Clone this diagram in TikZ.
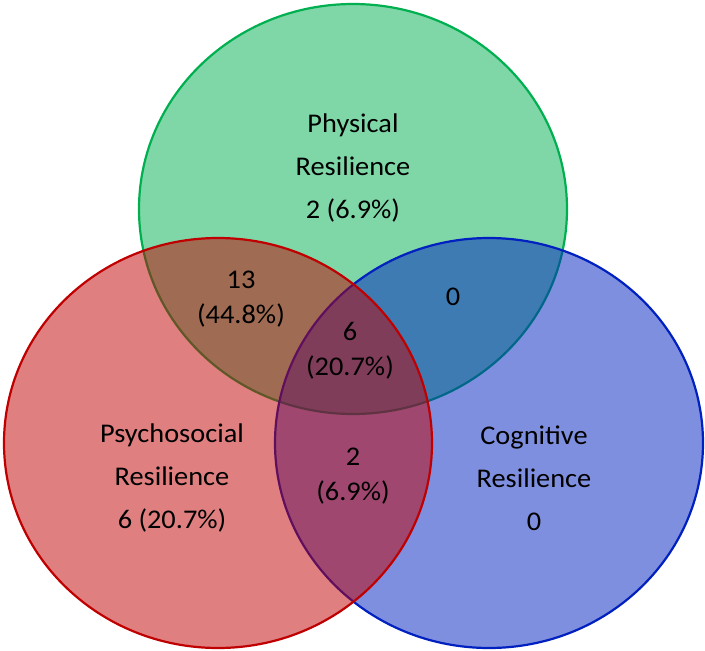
\documentclass[tikz,border=0pt]{standalone}
\usepackage{fontspec}
\setmainfont{Carlito}[FakeStretch=1.05]
\definecolor{cgreen}{RGB}{0,176,80}
\definecolor{cred}{RGB}{192,0,0}
\definecolor{cblue}{RGB}{0,32,192}
\begin{document}
\begin{tikzpicture}[x=1pt,y=-1pt]
\tikzset{
  setshape/.style={line width=2.2pt, fill opacity=0.5},
  bigl/.style={font=\fontsize{27}{43}\selectfont, align=center, text=black, inner sep=0pt},
  smalll/.style={font=\fontsize{27}{35}\selectfont, align=center, text=black, inner sep=0pt}
}
\useasboundingbox (0,0) rectangle (705,651);
\fill[white] (0,0) rectangle (705,651);
\draw[setshape, draw=cgreen, fill=cgreen] (353,209) ellipse [x radius=214pt, y radius=205pt];
\draw[setshape, draw=cblue, fill=cblue] (489,443) ellipse [x radius=214pt, y radius=205pt];
\draw[setshape, draw=cred, fill=cred] (218,443) ellipse [x radius=214pt, y radius=205pt];

\node[bigl] (phys) at (353,168) {Physical\\Resilience\\2 (6.9\%)};
\node[bigl] (psych) at (172,478) {Psychosocial\\Resilience\\6 (20.7\%)};
\node[bigl] (cogn) at (534,478) {Cognitive\\Resilience\\0};
\node[smalll] (pp) at (241,299) {13\\(44.8\%)};
\node[smalll] (pc) at (453,297) {0};
\node[smalll] (all) at (350,351) {6\\(20.7\%)};
\node[smalll] (sc) at (353,476) {2\\(6.9\%)};
\end{tikzpicture}
\end{document}
